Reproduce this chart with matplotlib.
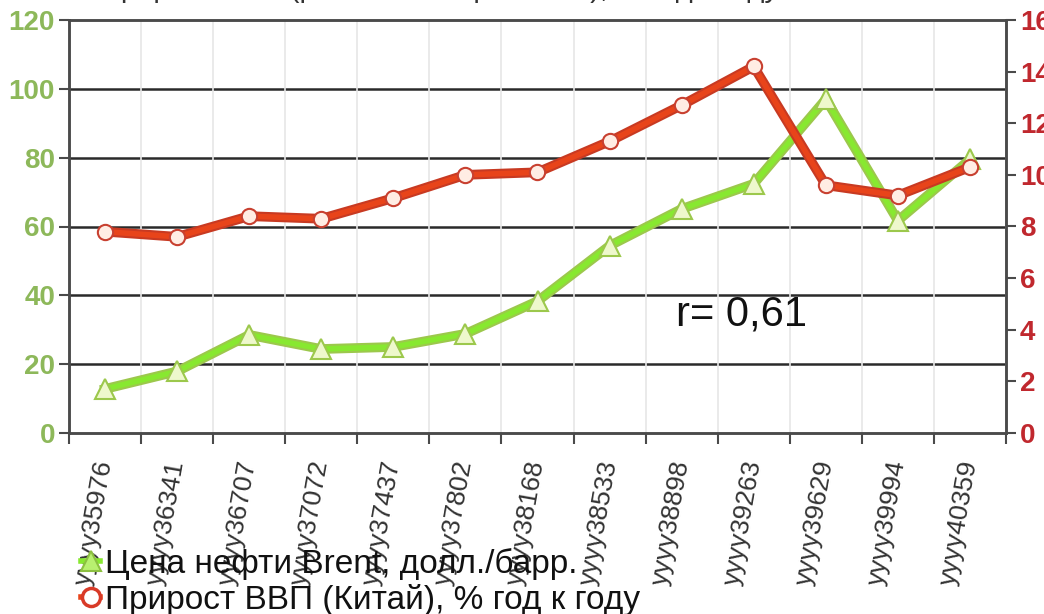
import matplotlib
matplotlib.use("Agg")
import matplotlib.pyplot as plt
import matplotlib.patheffects as pe
from matplotlib.lines import Line2D
import numpy as np

plt.rcParams['font.family'] = ['Liberation Sans', 'DejaVu Sans']

categories = ["yyyy35976", "yyyy36341", "yyyy36707", "yyyy37072", "yyyy37437",
              "yyyy37802", "yyyy38168", "yyyy38533", "yyyy38898", "yyyy39263",
              "yyyy39629", "yyyy39994", "yyyy40359"]
brent = [12.8, 17.9, 28.5, 24.4, 25.0, 28.8, 38.3, 54.4, 65.1, 72.4, 97.0, 61.7, 79.5]
gdp_china = [7.8, 7.6, 8.4, 8.3, 9.1, 10.0, 10.1, 11.3, 12.7, 14.2, 9.6, 9.2, 10.3]
left_ticks = [0, 20, 40, 60, 80, 100, 120]
right_ticks = [0, 2, 4, 6, 8, 10, 12, 14, 16]
label_brent = "Цена нефти Brent, долл./барр."
label_gdp = "Прирост ВВП (Китай), % год к году"
title = "Прирост ВВП (реальное выражение), % год к году"
annotation = "r= 0,61"

fig = plt.figure(figsize=(10.44, 6.14), dpi=100)
ax = fig.add_axes([69/1044, 1-433/614, (1006-69)/1044, (433-20)/614])
ax2 = ax.twinx()

n = len(categories)
x = np.arange(n)

ax.set_xlim(-0.5, n-0.5)
ax.set_ylim(0, 120)
ax2.set_ylim(0, 16)

# grid
ax.set_yticks(left_ticks)
ax.set_xticks(x)
ax.set_xticks(np.arange(n+1)-0.5, minor=True)
ax.grid(axis='x', which='minor', color='#E6E6E6', lw=1.2, zorder=0)
for v in left_ticks[1:-1]:
    ax.axhline(v, color='#2a2a2a', lw=1.8, zorder=1)

for s in ['top', 'bottom', 'left', 'right']:
    ax.spines[s].set_color('#4a4a4a')
    ax.spines[s].set_linewidth(1.8)
    ax2.spines[s].set_color('#4a4a4a')
    ax2.spines[s].set_linewidth(1.8)

ax.tick_params(axis='y', which='major', length=7, width=1.5, color='#4a4a4a', pad=3,
               labelsize=20, labelcolor='#8DB85A')
for t in ax.get_yticklabels():
    t.set_fontweight('bold')
ax.tick_params(axis='x', which='major', length=0, pad=20)
ax.tick_params(axis='x', which='minor', length=8, width=1.5, color='#4a4a4a', direction='out')
ax.set_xticklabels(categories, rotation=80, ha='right', va='center',
                   rotation_mode='anchor', fontsize=19, color='#333333')

ax2.set_yticks(right_ticks)
ax2.tick_params(axis='y', length=7, width=1.5, color='#4a4a4a', pad=3,
                labelsize=20, labelcolor='#C0282E')
for t in ax2.get_yticklabels():
    t.set_fontweight('bold')

# green series
ax.plot(x, brent, color='#88E830', lw=4, zorder=3, solid_joinstyle='round',
        path_effects=[pe.Stroke(linewidth=7, foreground='#9CC84C'), pe.Normal()])
ax.plot(x, brent, ls='none', marker='^', ms=14, mfc='#EEF8CC', mec='#9CC84C', mew=1.5, zorder=4)

# red series
ax2.plot(x, gdp_china, color='#E8441A', lw=4, zorder=3, solid_joinstyle='round',
         path_effects=[pe.Stroke(linewidth=7, foreground='#C83A22'), pe.Normal()])
ax2.plot(x, gdp_china, ls='none', marker='o', ms=11, mfc='#FFEDE4', mec='#C84030', mew=1.5, zorder=4)

ax2.text(0.648, 0.26, annotation, transform=ax.transAxes, fontsize=30, color='#111111',
         ha='left', va='baseline')

fig.text(100/1044, 1+3/614, title, fontsize=21, color='#333333', ha='left', va='baseline')

h1 = Line2D([0], [0], color='#88E830', lw=4, marker='^', ms=15, mfc='#B8F070', mec='#8CC040', mew=1.5)
h2 = Line2D([0], [0], color='#E8441A', lw=4, marker='o', ms=13, mfc='#FFFFFF', mec='#D83A28', mew=2.5)
leg = fig.legend([h1, h2], [label_brent, label_gdp], loc='lower left',
                 bbox_to_anchor=(58/1044, -25/614), frameon=False, fontsize=24,
                 handlelength=0.55, handletextpad=0.15, labelspacing=0.12, borderpad=0.2)
for t in leg.get_texts():
    t.set_color('#111111')

fig.savefig('out.png', dpi=100)
